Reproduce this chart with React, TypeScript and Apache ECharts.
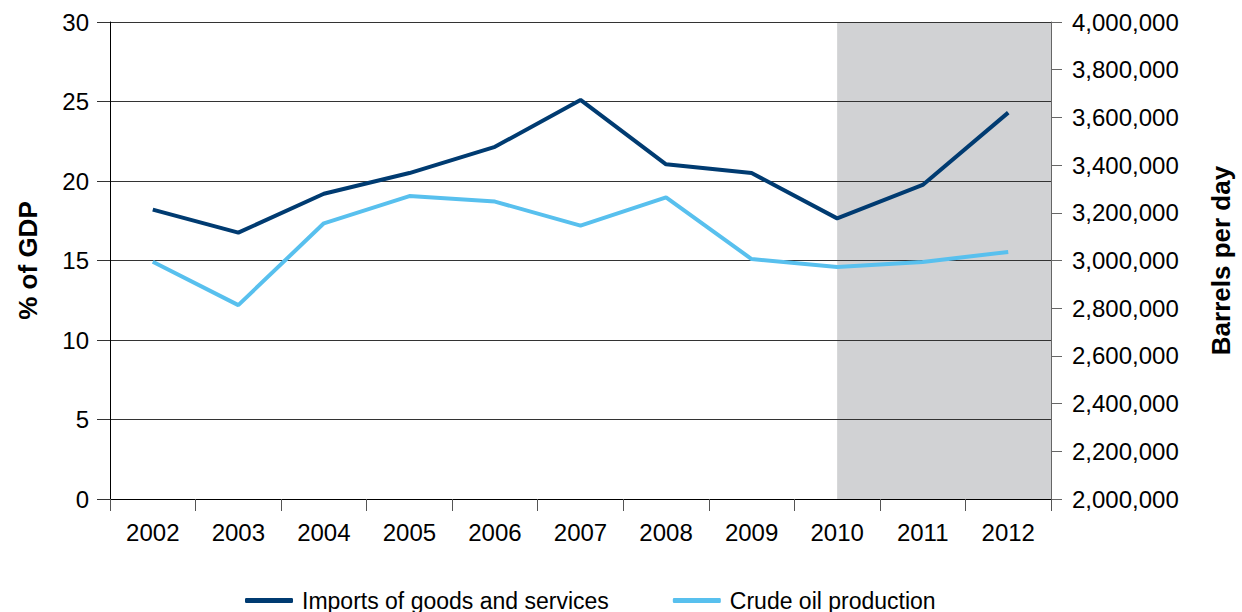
import React, { useEffect, useRef } from "react";
import * as echarts from "echarts";

const years = ["2002", "2003", "2004", "2005", "2006", "2007", "2008", "2009", "2010", "2011", "2012"];
const importsPctGdp = [18.2, 16.75, 19.2, 20.5, 22.15, 25.1, 21.05, 20.5, 17.65, 19.75, 24.3];
const crudeOilBpd = [2995000, 2813000, 3156000, 3270000, 3247000, 3146000, 3265000, 3006000, 2973000, 2994000, 3036000];
const shadeFrom = ["2010"];
const seriesNames = ["Imports of goods and services", "Crude oil production"];
const leftAxisName = "% of GDP";
const rightAxisName = "Barrels per day";

const FONT = '"Liberation Sans", Arial, sans-serif';
const BOLD_FONT = '"Liberation Sans", Arial, sans-serif';

export default function App() {
  const ref = useRef<HTMLDivElement>(null);
  useEffect(() => {
    if (!ref.current) return;
    const chart = echarts.init(ref.current, undefined, { renderer: "svg" });
    const option: any = {
      animation: false,
      backgroundColor: "#ffffff",
      grid: { left: 110, right: 185, top: 22, bottom: 113, containLabel: false },
      legend: {
        data: seriesNames,
        left: 240,
        top: 584,
        itemWidth: 48,
        itemHeight: 5,
        itemGap: 64,
        icon: "roundRect",
        textStyle: { fontFamily: FONT, fontSize: 23, color: "#000", padding: [0, 0, 0, 4] },
      },
      xAxis: [
        {
          type: "category",
          data: years,
          z: 3,
          axisLine: { show: true, lineStyle: { color: "#000", width: 1 } },
          axisTick: { show: true, length: 12, lineStyle: { color: "#555" } },
          axisLabel: { fontFamily: FONT, fontSize: 24, color: "#000", margin: 21 },
          splitLine: { show: false },
        },
      ],
      yAxis: [
        {
          type: "value",
          min: 0,
          max: 30,
          interval: 5,
          z: 3,
          name: leftAxisName,
          nameLocation: "middle",
          nameRotate: 90,
          nameGap: 69,
          nameTextStyle: { fontFamily: BOLD_FONT, fontWeight: "bold", fontSize: 26, color: "#000" },
          axisLine: { show: true, lineStyle: { color: "#000", width: 1 } },
          axisTick: { show: true, length: 13, lineStyle: { color: "#333" } },
          axisLabel: { fontFamily: FONT, fontSize: 24, color: "#000", margin: 21 },
          splitLine: { show: true, lineStyle: { color: "#333", width: 1 } },
        },
        {
          type: "value",
          min: 2000000,
          max: 4000000,
          interval: 200000,
          position: "right",
          z: 3,
          name: rightAxisName,
          nameLocation: "middle",
          nameRotate: 90,
          nameGap: 157,
          nameTextStyle: { fontFamily: BOLD_FONT, fontWeight: "bold", fontSize: 26, color: "#000" },
          axisLine: { show: true, lineStyle: { color: "#666", width: 1 } },
          axisTick: { show: true, length: 11, lineStyle: { color: "#666" } },
          axisLabel: {
            fontFamily: FONT,
            fontSize: 24,
            color: "#000",
            margin: 21,
            formatter: (v: number) => v.toLocaleString("en-US"),
          },
          splitLine: { show: false },
        },
      ],
      series: [
        {
          type: "custom",
          silent: true,
          z: 1,
          xAxisIndex: 0,
          yAxisIndex: 0,
          data: shadeFrom.map((y) => [y, 0]),
          encode: { x: 0, y: 1 },
          renderItem: (params: any, api: any) => {
            const start = api.coord([api.value(0), 0]);
            const cs = params.coordSys;
            return {
              type: "rect",
              shape: { x: start[0], y: cs.y, width: cs.x + cs.width - start[0], height: cs.height },
              style: { fill: "#d1d2d4" },
            };
          },
        },
        {
          name: seriesNames[0],
          type: "line",
          z: 5,
          yAxisIndex: 0,
          data: importsPctGdp,
          showSymbol: false,
          symbol: "none",
          lineStyle: { color: "#003b71", width: 4 },
          itemStyle: { color: "#003b71" },
        },
        {
          name: seriesNames[1],
          type: "line",
          z: 5,
          yAxisIndex: 1,
          data: crudeOilBpd,
          showSymbol: false,
          symbol: "none",
          lineStyle: { color: "#58c0ee", width: 4 },
          itemStyle: { color: "#58c0ee" },
        },
      ],
    };
    chart.setOption(option);
    return () => chart.dispose();
  }, []);
  return (
    <div
      ref={ref}
      style={{ position: "fixed", left: 0, top: 0, width: 1242, height: 612, background: "#fff" }}
    />
  );
}
